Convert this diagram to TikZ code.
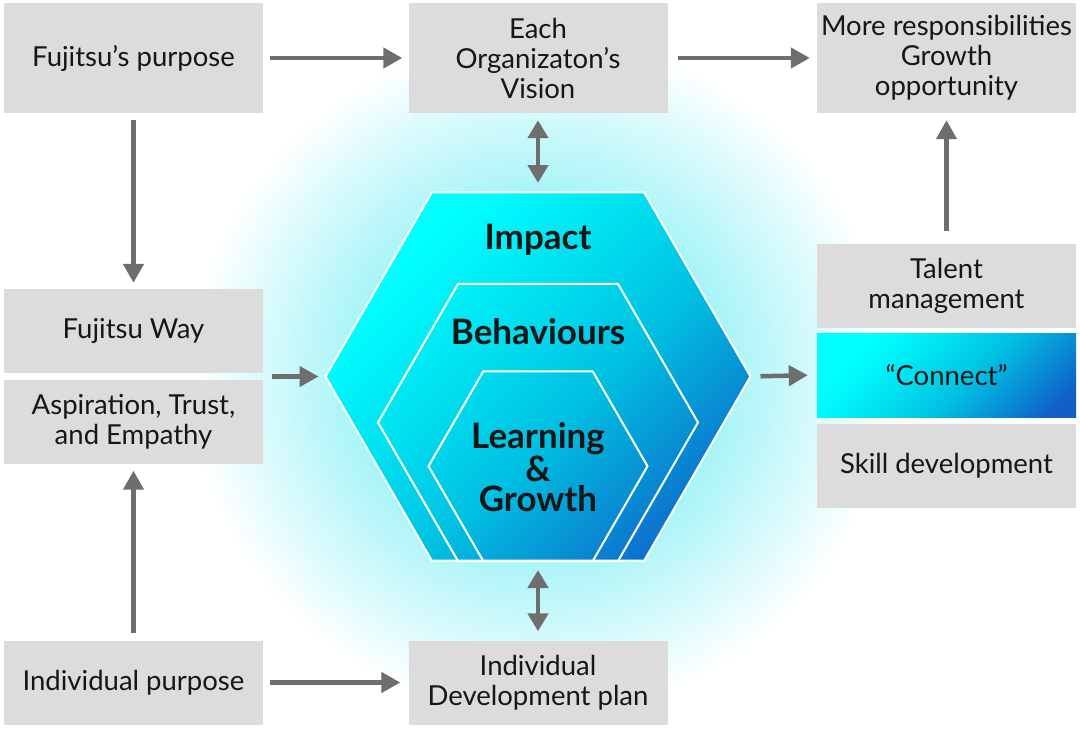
\documentclass[tikz,border=0pt]{standalone}
\usepackage{fontspec}
\setmainfont{Lato}
\usetikzlibrary{arrows.meta}
\definecolor{boxgray}{HTML}{DCDCDC}
\definecolor{arrowgray}{HTML}{6E6E6E}
\definecolor{inktext}{HTML}{161616}
\definecolor{hexcyan}{HTML}{00FFFF}
\definecolor{hexlight}{HTML}{00E2F0}
\definecolor{hexmid}{HTML}{00C0E2}
\definecolor{hexdeep}{HTML}{0890D4}
\definecolor{hexblue}{HTML}{1060C8}
\definecolor{glowcyan}{HTML}{96F2F6}
\pgfdeclarehorizontalshading{hexfill}{100bp}{color(0bp)=(hexcyan); color(28bp)=(hexcyan); color(42bp)=(hexlight); color(56bp)=(hexmid); color(68bp)=(hexdeep); color(79bp)=(hexblue); color(100bp)=(hexblue)}
\pgfdeclareradialshading{glow}{\pgfpoint{0bp}{0bp}}{color(0bp)=(glowcyan); color(11bp)=(glowcyan); color(25bp)=(white); color(50bp)=(white)}
\tikzset{
    info_box/.style={rectangle, fill=boxgray, text=inktext, align=center, inner sep=0pt,
                     minimum width=259pt, font=\fontsize{27.5}{30}\selectfont},
    tall_box/.style={info_box, minimum height=110pt},
    flat_box/.style={info_box, minimum height=84pt},
    connect_box/.style={flat_box, shading=hexfill, shading angle=-45},
    hex_shape/.style={shading=hexfill, shading angle=-45, draw=white, line width=2pt},
    hex_line/.style={draw=white, line width=2pt},
    hex_text/.style={text=inktext, align=center, font=\bfseries\fontsize{35}{30.5}\selectfont},
    flow_arrow/.style={-{Triangle[length=19pt, width=20pt]}, line width=4.5pt, draw=arrowgray},
    both_arrow/.style={{Triangle[length=18pt, width=20pt]}-{Triangle[length=18pt, width=20pt]},
                       line width=4.5pt, draw=arrowgray}
}
\begin{document}
\begin{tikzpicture}[x=1pt, y=-1pt]
    \useasboundingbox (0,0) rectangle (1080,729);
    % background glow
    \shade[shading=glow] (540,376) circle[x radius=350, y radius=340];
    % hexagons
    \draw[hex_shape] (538,376.5) +(0:212.5) -- +(60:212.5) -- +(120:212.5) -- +(180:212.5)
        -- +(240:212.5) -- +(300:212.5) -- cycle;
    \draw[hex_line] (538,422.5) +(0:160) -- +(60:160) -- +(120:160) -- +(180:160)
        -- +(240:160) -- +(300:160) -- cycle;
    \draw[hex_line] (538,466.2) +(0:109.5) -- +(60:109.5) -- +(120:109.5) -- +(180:109.5)
        -- +(240:109.5) -- +(300:109.5) -- cycle;
    \coordinate (hex_left) at (325.5,376.5);
    \coordinate (hex_right) at (750.5,376.5);
    \coordinate (hex_top) at (538,192);
    \coordinate (hex_bottom) at (538,561);
    \node[hex_text] (impact) at (538,240) {Impact};
    \node[hex_text] (behave) at (538,332) {Behaviours};
    \node[hex_text] (learn) at (538,467) {Learning\\\&\\Growth};
    % boxes
    \node[tall_box] (purpose) at (133.5,58) {Fujitsu’s purpose};
    \node[tall_box] (vision) at (538,58) {Each\\Organizaton’s\\Vision};
    \node[tall_box] (resp) at (946.5,58) {More responsibilities\\Growth\\opportunity};
    \node[flat_box] (way) at (133.5,331) {Fujitsu Way};
    \node[flat_box] (aspire) at (133.5,421.5) {Aspiration, Trust,\\and Empathy};
    \node[flat_box] (talent) at (946.5,285.5) {Talent\\management};
    \node[connect_box] (connect) at (946.5,375) {“Connect”};
    \node[flat_box] (skill) at (946.5,466) {Skill development};
    \node[flat_box] (indiv) at (133.5,682.5) {Individual purpose};
    \node[flat_box] (idp) at (538,682.5) {Individual\\Development plan};
    % arrows
    \draw[flow_arrow, shorten <=7pt, shorten >=6pt] (purpose) -- (vision);
    \draw[flow_arrow, shorten <=10pt, shorten >=7pt] (vision) -- (resp);
    \draw[flow_arrow, shorten <=7pt, shorten >=6pt] (purpose) -- (way);
    \draw[flow_arrow, shorten <=7pt, shorten >=7pt] (indiv) -- (aspire);
    \draw[flow_arrow, shorten <=7pt, shorten >=8pt] (indiv) -- (idp);
    \draw[flow_arrow, shorten <=12pt, shorten >=7pt] (talent) -- (resp);
    \draw[flow_arrow, shorten >=7pt] ([xshift=9pt]way.east |- hex_left) -- (hex_left);
    \draw[flow_arrow, shorten <=10pt, shorten >=9pt] (hex_right) -- (connect.west);
    \draw[both_arrow, shorten <=7pt, shorten >=9pt] (vision) -- (hex_top);
    \draw[both_arrow, shorten <=9pt, shorten >=9pt] (hex_bottom) -- (idp);
\end{tikzpicture}
\end{document}
